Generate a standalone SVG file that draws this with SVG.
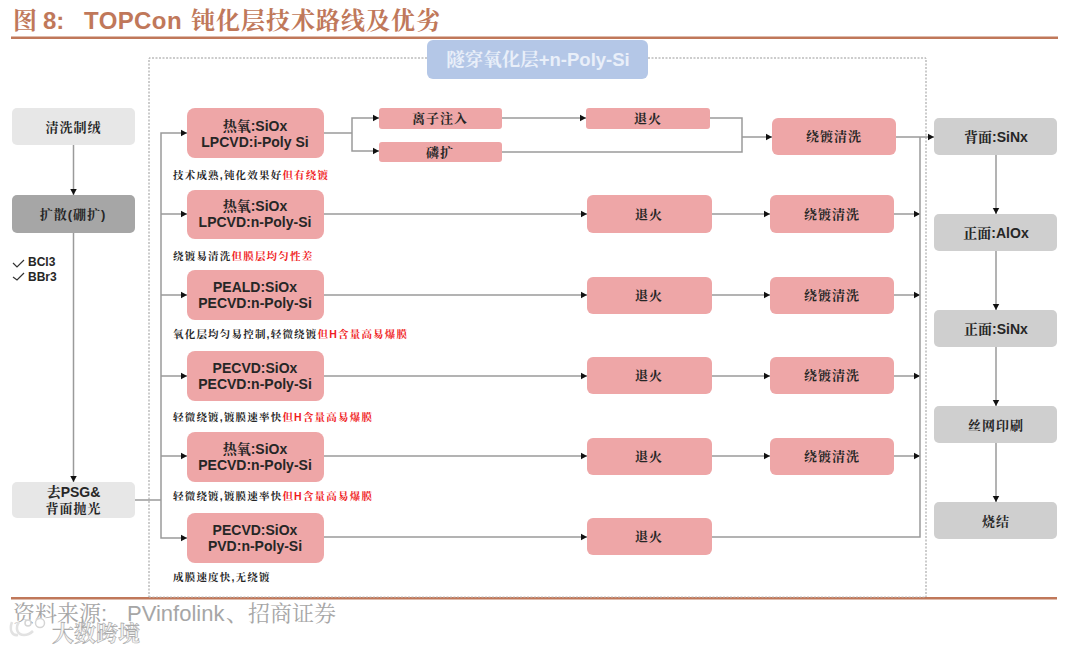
<svg xmlns="http://www.w3.org/2000/svg" width="1080" height="653" viewBox="0 0 1080 653">
<style>
text{font-family:"Liberation Sans","Noto Serif CJK SC","Noto Sans CJK SC",sans-serif;text-anchor:middle;font-weight:700;font-size:14px;fill:#262626}
.cn{font-size:13px;letter-spacing:1px}
.p{fill:#eea6a7}.g{fill:#e7e7e7}.d{fill:#cfcfcf}
.n{font-size:10.5px;letter-spacing:1.2px;text-anchor:start}
.r{fill:#f01c24}
.t{font-size:24px;fill:#c0785a;text-anchor:start}
.f{font-size:22px;font-weight:400;fill:#a6a6a6;text-anchor:start}
.c path{fill:none;stroke:#9a9a9a;stroke-width:1.5}
.a{marker-end:url(#m)}
</style>
<defs><marker id="m" markerUnits="userSpaceOnUse" markerWidth="7" markerHeight="8" refX="6.5" refY="4" orient="auto"><path d="M0 0.5L6.5 4L0 7.5Z" fill="#111"/></marker></defs>
<rect width="1080" height="653" fill="#fff"/>
<text class="t" x="13" y="29">图</text><text class="t" x="43" y="29">8:</text><text class="t" x="84" y="29" style="letter-spacing:.4px">TOPCon</text><text class="t" x="191" y="29" style="letter-spacing:1px">钝化层技术路线及优劣</text>
<rect x="11" y="36.500" width="1047" height="2.500" fill="#c0785a"/>
<rect x="11" y="597" width="1046" height="2.500" fill="#c0785a"/>
<path d="M427 58H149V597M648 58H926V597" fill="none" stroke="#999" stroke-dasharray="2 1.500"/>
<path d="M149 597H926" fill="none" stroke="#bbb" stroke-dasharray="2 1.500"/>

<g class="c" id="connectors">
<path class="a" d="M73.500 145V195"/>
<path class="a" d="M73.500 233V482"/>
<path d="M135 500H161"/>
<path class="a" d="M161 500V133H187"/>
<path class="a" d="M161 214H187"/>
<path class="a" d="M161 295H187"/>
<path class="a" d="M161 376H187"/>
<path class="a" d="M161 456H187"/>
<path class="a" d="M161 500V538H187"/>
<path d="M324 133H352"/>
<path class="a" d="M352 133V118H379"/>
<path class="a" d="M352 133V151H379"/>
<path class="a" d="M502 118H586"/>
<path d="M710 118H742V152H502"/>
<path class="a" d="M742 137H772"/>
<path class="a" d="M324 214H587"/>
<path class="a" d="M324 295H587"/>
<path class="a" d="M324 376H587"/>
<path class="a" d="M324 456H587"/>
<path class="a" d="M324 537H587"/>
<path class="a" d="M712 214H770"/>
<path class="a" d="M712 295H770"/>
<path class="a" d="M712 376H770"/>
<path class="a" d="M712 456H770"/>
<path class="a" d="M896 137H934"/>
<path class="a" d="M894 214H920"/>
<path class="a" d="M894 295H920"/>
<path class="a" d="M894 376H920"/>
<path class="a" d="M894 456H920"/>
<path d="M712 537H920V137"/>
<path class="a" d="M996 155V214"/>
<path class="a" d="M996 251V310"/>
<path class="a" d="M996 347V406"/>
<path class="a" d="M996 443V502"/>
</g>

<g id="clean"><rect class="g" x="12" y="108" width="123" height="37" rx="5"/><text class="cn" x="73.500" y="132">清洗制绒</text></g>
<g id="diffusion"><rect x="12" y="195" width="123" height="38" rx="5" fill="#a6a6a6"/><text class="cn" x="73" y="219">扩散(硼扩)</text></g>
<g id="gases"><path d="M13 263l4 4l7-7M13 277l4 3l7-7" fill="none" stroke="#333" stroke-width="1.200"/><text x="28" y="266" style="text-anchor:start;font-size:12px">BCl3</text><text x="28" y="281" style="text-anchor:start;font-size:12px">BBr3</text></g>
<g id="psg"><rect class="g" x="12" y="482" width="123" height="36" rx="5"/><text x="73.500" y="497">去PSG&amp;</text><text class="cn" x="73.500" y="513">背面抛光</text></g>

<g id="title"><rect x="427" y="40" width="221" height="39" rx="6" fill="#b4c7e7"/><text x="538" y="66" style="fill:#e9eff9;font-size:18.500px">隧穿氧化层+n-Poly-Si</text></g>

<g id="r1"><rect class="p" x="187" y="108" width="137" height="50" rx="8"/><text x="255" y="131">热氧:SiOx</text><text x="255" y="147">LPCVD:i-Poly Si</text></g>
<text class="n" x="173" y="179">技术成熟,钝化效果好<tspan class="r">但有绕镀</tspan></text>
<g id="r2"><rect class="p" x="187" y="190" width="137" height="49" rx="8"/><text x="255" y="211">热氧:SiOx</text><text x="255" y="227">LPCVD:n-Poly-Si</text></g>
<text class="n" x="173" y="260">绕镀易清洗<tspan class="r">但膜层均匀性差</tspan></text>
<g id="r3"><rect class="p" x="187" y="270" width="137" height="50" rx="8"/><text x="255" y="292">PEALD:SiOx</text><text x="255" y="308">PECVD:n-Poly-Si</text></g>
<text class="n" x="173" y="338">氧化层均匀易控制,轻微绕镀<tspan class="r">但H含量高易爆膜</tspan></text>
<g id="r4"><rect class="p" x="187" y="351" width="137" height="50" rx="8"/><text x="255" y="373">PECVD:SiOx</text><text x="255" y="389">PECVD:n-Poly-Si</text></g>
<text class="n" x="173" y="421">轻微绕镀,镀膜速率快<tspan class="r">但H含量高易爆膜</tspan></text>
<g id="r5"><rect class="p" x="187" y="432" width="137" height="50" rx="8"/><text x="255" y="454">热氧:SiOx</text><text x="255" y="470">PECVD:n-Poly-Si</text></g>
<text class="n" x="173" y="500">轻微绕镀,镀膜速率快<tspan class="r">但H含量高易爆膜</tspan></text>
<g id="r6"><rect class="p" x="187" y="513" width="137" height="50" rx="8"/><text x="255" y="535">PECVD:SiOx</text><text x="255" y="551">PVD:n-Poly-Si</text></g>
<text class="n" x="173" y="581">成膜速度快,无绕镀</text>

<g id="implant"><rect class="p" x="379" y="108" width="123" height="21" rx="3"/><text class="cn" x="440" y="123">离子注入</text></g>
<g id="pdiff"><rect class="p" x="379" y="142" width="123" height="20" rx="3"/><text class="cn" x="440" y="157">磷扩</text></g>
<g id="a1"><rect class="p" x="586" y="108" width="124" height="21" rx="3"/><text class="cn" x="648" y="123">退火</text></g>
<g id="a2"><rect class="p" x="587" y="195" width="125" height="38" rx="6"/><text class="cn" x="649" y="219">退火</text></g>
<g id="a3"><rect class="p" x="587" y="277" width="125" height="37" rx="6"/><text class="cn" x="649" y="300">退火</text></g>
<g id="a4"><rect class="p" x="587" y="357" width="125" height="37" rx="6"/><text class="cn" x="649" y="380">退火</text></g>
<g id="a5"><rect class="p" x="587" y="438" width="125" height="37" rx="6"/><text class="cn" x="649" y="461">退火</text></g>
<g id="a6"><rect class="p" x="587" y="518" width="125" height="37" rx="6"/><text class="cn" x="649" y="541">退火</text></g>
<g id="w1"><rect class="p" x="772" y="118" width="124" height="37" rx="6"/><text class="cn" x="834" y="141">绕镀清洗</text></g>
<g id="w2"><rect class="p" x="770" y="195" width="124" height="38" rx="6"/><text class="cn" x="832" y="219">绕镀清洗</text></g>
<g id="w3"><rect class="p" x="770" y="277" width="124" height="37" rx="6"/><text class="cn" x="832" y="300">绕镀清洗</text></g>
<g id="w4"><rect class="p" x="770" y="357" width="124" height="37" rx="6"/><text class="cn" x="832" y="380">绕镀清洗</text></g>
<g id="w5"><rect class="p" x="770" y="438" width="124" height="37" rx="6"/><text class="cn" x="832" y="461">绕镀清洗</text></g>

<g id="s1"><rect class="d" x="934" y="118" width="123" height="37" rx="5"/><text x="996" y="142">背面:SiNx</text></g>
<g id="s2"><rect class="d" x="934" y="214" width="123" height="37" rx="5"/><text x="996" y="238">正面:AlOx</text></g>
<g id="s3"><rect class="d" x="934" y="310" width="123" height="37" rx="5"/><text x="996" y="334">正面:SiNx</text></g>
<g id="s4"><rect class="d" x="934" y="406" width="123" height="37" rx="5"/><text class="cn" x="996" y="430">丝网印刷</text></g>
<g id="s5"><rect class="d" x="934" y="502" width="123" height="37" rx="5"/><text class="cn" x="996" y="526">烧结</text></g>

<text class="f" x="13" y="621">资料来源:</text><text class="f" x="127" y="621">PVinfolink</text><text class="f" x="226" y="621">、招商证券</text>
<path d="M12 622c-3 8 0 14 6 13M19 622c-4 6-2 13 5 13c4 0 7-2 9-4" fill="none" stroke="#e2e2e2" stroke-width="2.500"/>
<circle cx="28" cy="623" r="3" fill="#fff" stroke="#d5d5d5" stroke-width="1.500"/><circle cx="40" cy="623" r="4.500" fill="#fff" stroke="#d5d5d5" stroke-width="1.500"/>
<text x="52" y="641" style="text-anchor:start;font-size:22px;fill:#f4f4f4;stroke:#aaa;stroke-width:.6">大数跨境</text>
</svg>
